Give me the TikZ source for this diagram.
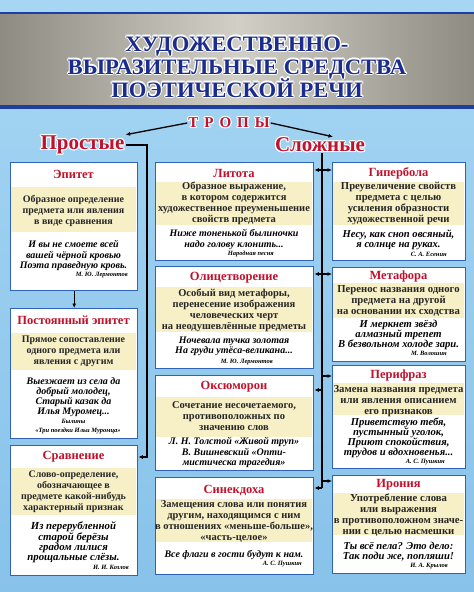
\documentclass[tikz,border=0pt]{standalone}
\usepackage{fontspec}
\setmainfont{Liberation Serif}
\newfontfamily\ttlfont[FakeStretch=1.03]{Liberation Serif}
\usetikzlibrary{arrows.meta,calc}
\definecolor{bgA}{HTML}{A6D6F3}
\definecolor{bgB}{HTML}{88C2EA}
\definecolor{bandA}{HTML}{8E8C82}
\definecolor{bandB}{HTML}{D2D0C6}
\definecolor{navy}{HTML}{1A2C8E}
\definecolor{lineblue}{HTML}{1E3F9F}
\definecolor{boxblue}{HTML}{2F63B6}
\definecolor{beige}{HTML}{F7EFC6}
\definecolor{tred}{HTML}{C0122C}
\tikzset{
 tbox/.style={draw=boxblue, line width=1.4pt, fill=white, inner sep=0pt, anchor=north west},
 ttl/.style={font=\fontsize{12.5}{14}\selectfont\bfseries, text=tred, inner sep=0pt},
 defn/.style={font=\fontsize{10}{11}\selectfont\bfseries, align=center, inner sep=0pt, text=black!85},
 defM/.style={defn, font=\fontsize{10.5}{11}\selectfont\bfseries},
 defR/.style={defn, font=\fontsize{10.7}{11}\selectfont\bfseries},
 exm/.style={font=\fontsize{10}{10.2}\selectfont\bfseries\itshape, align=center, inner sep=0pt},
 exR/.style={exm, font=\fontsize{10.6}{10.2}\selectfont\bfseries\itshape},
 auth/.style={font=\fontsize{6.5}{7}\selectfont\bfseries\itshape, inner sep=0pt, anchor=east},
 conn/.style={line width=1.3pt, black},
 arr/.style={conn, -{Latex[length=4.5pt,width=4pt]}},
 bigt/.style={font=\ttlfont\fontsize{22}{24}\selectfont\bfseries, inner sep=0pt, text=navy, anchor=base},
 grp/.style={font=\fontsize{21}{23}\selectfont\bfseries, inner sep=1pt, text=tred},
 trp/.style={font=\fontsize{15}{17}\selectfont\bfseries, inner sep=1pt, text=tred},
}
\newcommand{\mkbox}[7]{%
 \node[tbox, minimum width={#4-#2}, minimum height={#5-#3}] (#1) at (#2,#3) {};
 \fill[beige] (#2+0.7,#6) rectangle (#4-0.7,#7);
}
\newcommand{\outl}[5]{%
 \foreach \a in {0,30,...,330}{\node[#2,text=white] (#1o\a) at ($(#3,#4)+(\a:1.1pt)$) {#5};}
 \node[#2] (#1) at (#3,#4) {#5};
}
\begin{document}
\begin{tikzpicture}[x=1pt,y=-1pt]
\useasboundingbox (0,0) rectangle (474,592);
% background
\shade[top color=bgA, bottom color=bgB] (0,0) rectangle (474,592);
\shade[left color=bandA, right color=bandA, middle color=bandB] (0,14) rectangle (474,105);
\fill[lineblue] (0,11.5) rectangle (474,14);
\fill[lineblue] (0,105) rectangle (474,108.5);
% title
\outl{t1}{bigt}{237}{51}{ХУДОЖЕСТВЕННО-}
\outl{t2}{bigt}{237}{74}{ВЫРАЗИТЕЛЬНЫЕ СРЕДСТВА}
\outl{t3}{bigt}{237}{97}{ПОЭТИЧЕСКОЙ РЕЧИ}
\outl{tropy}{trp}{229}{123}{Т\hspace{6pt}Р\hspace{6pt}О\hspace{6pt}П\hspace{6pt}Ы}
\outl{prostye}{grp}{82.5}{145}{Простые}
\outl{slozhnye}{grp}{320}{145}{Сложные}

% left column
\mkbox{epitet}{10}{162}{137}{290}{187}{232}
\node[ttl] (epitetT) at (73.5,174) {Эпитет};
\node[defn] (epitetD) at (73.5,211) {Образное определение\\предмета или явления\\в виде сравнения};
\node[exm] (epitetE) at (73.5,255.5) {И вы не смоете всей\\вашей чёрной кровью\\Поэта праведную кровь.};
\node[auth] (epitetA) at (128,275) {М. Ю. Лермонтов};

\mkbox{postep}{10}{308}{137}{438}{333}{370}
\node[ttl] (postepT) at (73.5,320) {Постоянный эпитет};
\node[defn] (postepD) at (73.5,351) {Прямое сопоставление\\одного предмета или\\явления с другим};
\node[exm] (postepE) at (73.5,397) {Выезжает из села да\\добрый молодец,\\Старый казак да\\Илья Муромец...};
\node[auth,anchor=center] (postepA) at (73.5,421) {Былины};
\node[auth,anchor=center] (postepB) at (78,431) {«Три поездки Ильи Муромца»};

\mkbox{sravn}{10}{445}{137}{575}{468}{515}
\node[ttl] (sravnT) at (73.5,457) {Сравнение};
\node[defn] (sravnD) at (73.5,492) {Слово-определение,\\обозначающее в\\предмете какой-нибудь\\характерный признак};
\node[exm, font=\fontsize{10.8}{10}\selectfont\bfseries\itshape] (sravnE) at (73.5,542.5) {Из перерубленной\\старой берёзы\\градом лилися\\прощальные слёзы.};
\node[auth] (sravnA) at (129,567) {И. И. Козлов};

% middle column
\mkbox{litota}{155}{162}{313}{260}{182}{225}
\node[ttl] (litotaT) at (234,173) {Литота};
\node[defM] (litotaD) at (234,203.5) {Образное выражение,\\в котором содержится\\художественное преуменьшение\\свойств предмета};
\node[exm] (litotaE) at (234,239.5) {Ниже тоненькой былиночки\\надо голову клонить...};
\node[auth] (litotaA) at (274,254) {Народная песня};

\mkbox{oliz}{155}{266}{313}{368}{287}{332}
\node[ttl] (olizT) at (234,278) {Олицетворение};
\node[defM] (olizD) at (234,310.5) {Особый вид метафоры,\\перенесение изображения\\человеческих черт\\на неодушевлённые предметы};
\node[exm] (olizE) at (234,346.5) {Ночевала тучка золотая\\На груди утёса-великана...};
\node[auth] (olizA) at (273,362) {М. Ю. Лермонтов};

\mkbox{oksum}{155}{375}{313}{470}{397}{437}
\node[ttl] (oksumT) at (234,387) {Оксюморон};
\node[defM] (oksumD) at (234,416) {Сочетание несочетаемого,\\противоположных по\\значению слов};
\node[exm] (oksumE) at (234,452.5) {Л. Н. Толстой «Живой труп»\\В. Вишневский «Опти-\\мистическа трагедия»};

\mkbox{sinek}{155}{477}{313}{574}{499}{542}
\node[ttl] (sinekT) at (234,490) {Синекдоха};
\node[defM] (sinekD) at (234,521.5) {Замещения слова или понятия\\другим, находящимся с ним\\в отношениях «меньше-больше»,\\«часть-целое»};
\node[exm] (sinekE) at (234,555) {Все флаги в гости будут к нам.};
\node[auth] (sinekA) at (302,564) {А. С. Пушкин};

% right column
\mkbox{giperb}{332}{162}{465}{260}{182}{225}
\node[ttl] (giperbT) at (398.5,173) {Гипербола};
\node[defR] (giperbD) at (398.5,203.5) {Преувеличение свойств\\предмета с целью\\усиления образности\\художественной речи};
\node[exR] (giperbE) at (398.5,240) {Несу, как сноп овсяный,\\я солнце на руках.};
\node[auth] (giperbA) at (447,254) {С. А. Есенин};

\mkbox{metaf}{332}{267}{465}{361}{283}{318}
\node[ttl] (metafT) at (398.5,276) {Метафора};
\node[defR] (metafD) at (398.5,300.5) {Перенос названия одного\\предмета на другой\\на основании их сходства};
\node[exR] (metafE) at (398.5,335) {И меркнет звёзд\\алмазный трепет\\В безвольном холоде зари.};
\node[auth] (metafA) at (447,353) {М. Волошин};

\mkbox{perifr}{332}{365}{465}{468}{383}{415}
\node[ttl] (perifrT) at (398.5,375) {Перифраз};
\node[defR] (perifrD) at (398.5,401.5) {Замена названия предмета\\или явления описанием\\его признаков};
\node[exR] (perifrE) at (398.5,438) {Приветствую тебя,\\пустынный уголок,\\Приют спокойствия,\\трудов и вдохновенья...};
\node[auth] (perifrA) at (445,462) {А. С. Пушкин};

\mkbox{ironia}{332}{475}{465}{573}{493}{535}
\node[ttl] (ironiaT) at (398.5,485) {Ирония};
\node[defR] (ironiaD) at (398.5,515.5) {Употребление слова\\или выражения\\в противоположном значе-\\нии с целью насмешки};
\node[exR] (ironiaE) at (398.5,552) {Ты всё пела? Это дело:\\Так поди же, попляши!};
\node[auth] (ironiaA) at (448,566) {И. А. Крылов};

% connectors
\draw[arr] (tropy.west) -- (prostye.north east);
\draw[arr] (tropy.east) -- ($(slozhnye.north)+(13,0)$);
\coordinate (lbend) at (147,457);
\draw[arr] (prostye.east) -| (lbend) -- (lbend -| sravn.east);
\draw[arr] (epitet.south) -- (postep.north);

\coordinate (r1) at (322,170);
\coordinate (r2) at (322,274);
\coordinate (r3a) at (322,390);
\coordinate (r3b) at (322,376);
\coordinate (r4a) at (322,488);
\coordinate (r4b) at (322,481);
\draw[conn] (slozhnye.south -| r4a) -- (r4a);
\draw[arr] (r1) -- (r1 -| litota.east);
\draw[arr] (r1) -- (r1 -| giperb.west);
\draw[arr] (r2) -- (r2 -| oliz.east);
\draw[arr] (r2) -- (r2 -| metaf.west);
\draw[arr] (r3a) -- (r3a -| oksum.east);
\draw[arr] (r3b) -- (r3b -| perifr.west);
\draw[arr] (r4a) -- (r4a -| sinek.east);
\draw[arr] (r4b) -- (r4b -| ironia.west);
\end{tikzpicture}
\end{document}
